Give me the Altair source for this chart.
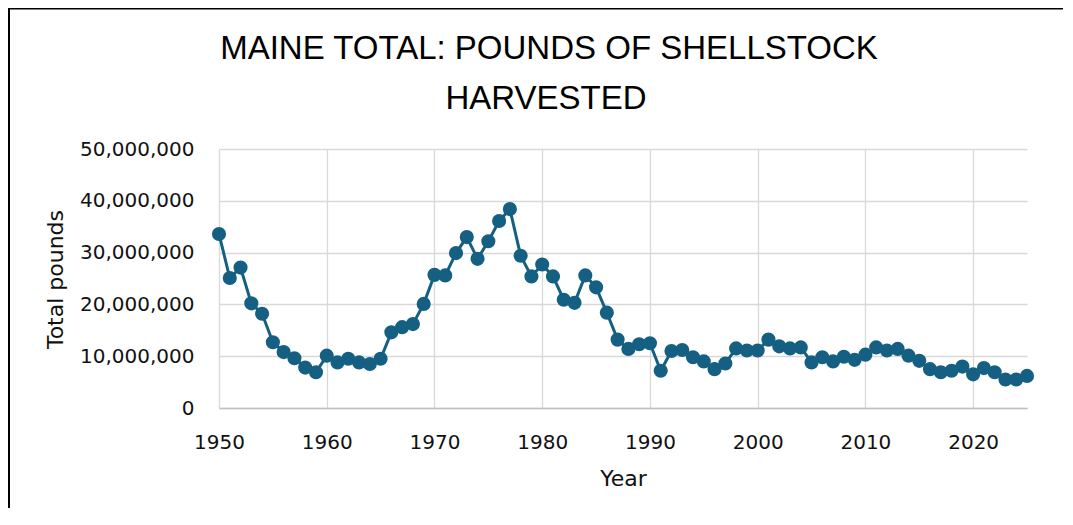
import altair as alt
import pandas as pd

years = list(range(1950, 2026))
pounds = [
    33600000, 25100000, 27100000, 20200000, 18200000, 12700000, 10800000, 9600000, 7800000, 6900000,
    10100000, 8800000, 9500000, 8800000, 8500000, 9500000, 14600000, 15600000, 16200000, 20100000,
    25700000, 25600000, 29900000, 33000000, 28800000, 32200000, 36100000, 38400000, 29400000, 25400000,
    27700000, 25400000, 20900000, 20300000, 25600000, 23300000, 18400000, 13200000, 11400000, 12300000,
    12500000, 7200000, 11000000, 11200000, 9800000, 9000000, 7500000, 8600000, 11500000, 11100000,
    11100000, 13200000, 11900000, 11500000, 11700000, 8800000, 9800000, 9000000, 9900000, 9300000,
    10300000, 11700000, 11100000, 11400000, 10100000, 9100000, 7500000, 6900000, 7200000, 8000000,
    6500000, 7700000, 6900000, 5500000, 5500000, 6200000,
]
x_ticks = [1950, 1960, 1970, 1980, 1990, 2000, 2010, 2020]
y_ticks = [0, 10000000, 20000000, 30000000, 40000000, 50000000]
title_lines = ["MAINE TOTAL: POUNDS OF SHELLSTOCK", "HARVESTED"]

df = pd.DataFrame({"Year": years, "Pounds": pounds})
COLOR = "#156082"
AX_FONT = "DejaVu Sans"

base = alt.Chart(df)

line = base.mark_line(
    color=COLOR, strokeWidth=3,
    point=alt.OverlayMarkDef(filled=True, size=200, color=COLOR, opacity=1),
).encode(
    x=alt.X("Year:Q",
            scale=alt.Scale(domain=[1950, 2025], nice=False, zero=False),
            axis=alt.Axis(values=x_ticks, format="d", title="Year",
                          grid=True, gridColor="#d9d9d9", gridWidth=1.3,
                          ticks=False, domain=True, domainColor="#bfbfbf", domainWidth=1.5,
                          labelFont=AX_FONT, labelFontSize=20, labelColor="#111111",
                          labelPadding=24, labelFlush=False,
                          titleFont=AX_FONT, titleFontSize=22, titleFontWeight="normal",
                          titleColor="#111111", titleBaseline="alphabetic", titleY=77)),
    y=alt.Y("Pounds:Q",
            scale=alt.Scale(domain=[0, 50000000], nice=False),
            axis=alt.Axis(values=y_ticks, format=",d", title="Total pounds",
                          grid=True, gridColor="#d9d9d9", gridWidth=1.3,
                          ticks=False, domain=False,
                          labelFont=AX_FONT, labelFontSize=20, labelColor="#111111",
                          labelPadding=25,
                          titleFont=AX_FONT, titleFontSize=22, titleFontWeight="normal",
                          titleColor="#111111", titleBaseline="alphabetic",
                          titleX=-157, titleY=130, titleAngle=270)),
)

one = pd.DataFrame({"a": [0]})
t1 = alt.Chart(pd.DataFrame({"t": [title_lines[0]]})).mark_text(
    font="Liberation Sans", fontSize=33, color="#000000", align="center", baseline="alphabetic"
).encode(text="t:N", x=alt.value(330), y=alt.value(-90))
t2 = alt.Chart(pd.DataFrame({"t": [title_lines[1]]})).mark_text(
    font="Liberation Sans", fontSize=33, color="#000000", align="center", baseline="alphabetic"
).encode(text="t:N", x=alt.value(327), y=alt.value(-40))

border_top = alt.Chart(one).mark_rule(color="#000000", strokeWidth=1.5).encode(
    x=alt.value(-210), x2=alt.value(900), y=alt.value(-140.2))
border_left = alt.Chart(one).mark_rule(color="#000000", strokeWidth=2).encode(
    x=alt.value(-210), y=alt.value(-141), y2=alt.value(420))

chart = alt.layer(line, t1, t2, border_top, border_left).properties(
    width=808, height=259,
    autosize=alt.AutoSizeParams(type="none"),
    padding={"left": 211, "top": 141, "right": 36, "bottom": 100},
).configure_view(stroke=None)

chart.save("out.html", embed_options={"renderer": "svg", "actions": False})
